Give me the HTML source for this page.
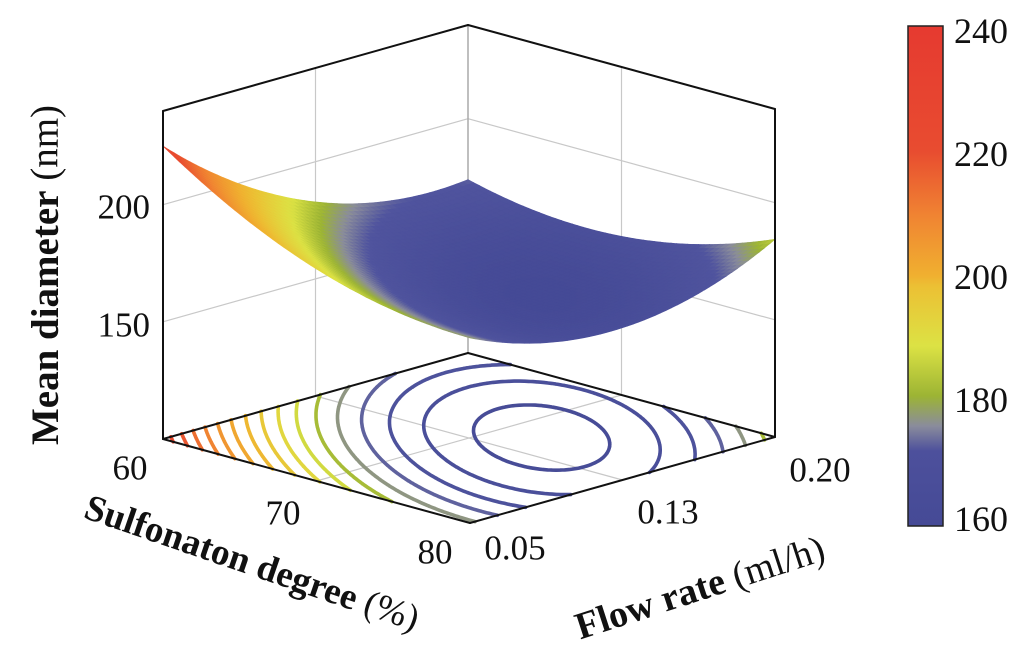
<!DOCTYPE html>
<html><head><meta charset="utf-8"><style>
html,body{margin:0;padding:0;background:#fff;}
svg{display:block;}
text{font-family:"Liberation Serif",serif;fill:#111;}
</style></head><body>
<svg id="chart" width="1024" height="659" viewBox="0 0 1024 659">
<defs>
<linearGradient id="cbgrad" x1="0" y1="1" x2="0" y2="0">
<stop offset="0" stop-color="#454a96"/><stop offset="0.15" stop-color="#4d509c"/>
<stop offset="0.2" stop-color="#8a8c9c"/><stop offset="0.26" stop-color="#9cb434"/>
<stop offset="0.36" stop-color="#dce244"/><stop offset="0.48" stop-color="#ecc034"/>
<stop offset="0.5" stop-color="#f0b030"/><stop offset="0.62" stop-color="#f08432"/>
<stop offset="0.75" stop-color="#e84c30"/><stop offset="1" stop-color="#e63a30"/>
</linearGradient>
</defs>
<g id="walls"></g>
<g id="contours"></g>
<g id="surface"></g>
<g id="edges"></g>

<text x="150" y="207" font-size="35" text-anchor="end" dominant-baseline="central">200</text>
<text x="150" y="325" font-size="35" text-anchor="end" dominant-baseline="central">150</text>
<text transform="translate(45,275) rotate(-90)" font-size="39" text-anchor="middle" dominant-baseline="central"><tspan font-weight="bold">Mean diameter</tspan> (nm)</text>

<text x="130" y="468" font-size="35" text-anchor="middle" dominant-baseline="central">60</text>
<text x="283" y="513" font-size="35" text-anchor="middle" dominant-baseline="central">70</text>
<text x="435" y="552" font-size="35" text-anchor="middle" dominant-baseline="central">80</text>
<text transform="translate(252,563) rotate(19)" font-size="37" text-anchor="middle" dominant-baseline="central"><tspan font-weight="bold">Sulfonaton degree</tspan> (%)</text>

<text x="515" y="548" font-size="35" text-anchor="middle" dominant-baseline="central">0.05</text>
<text x="668" y="512" font-size="35" text-anchor="middle" dominant-baseline="central">0.13</text>
<text x="820" y="470" font-size="35" text-anchor="middle" dominant-baseline="central">0.20</text>
<text transform="translate(700,588) rotate(-18)" font-size="38" text-anchor="middle" dominant-baseline="central"><tspan font-weight="bold">Flow rate</tspan> (ml/h)</text>

<g>
<rect x="908" y="26" width="35" height="500" fill="url(#cbgrad)" stroke="#222" stroke-width="1.5"/>
<text x="954" y="31" font-size="36" dominant-baseline="central">240</text>
<text x="954" y="154" font-size="36" dominant-baseline="central">220</text>
<text x="954" y="277" font-size="36" dominant-baseline="central">200</text>
<text x="954" y="400" font-size="36" dominant-baseline="central">180</text>
<text x="954" y="519" font-size="36" dominant-baseline="central">160</text>
</g>
</svg>
<script>
const sulfonation = [60, 65, 70, 75, 80];
const flowRate = [0.05, 0.0875, 0.125, 0.1625, 0.20];
// diameter[i][j] : sulfonation[i], flowRate[j]
const diameterRow60 = [225.0, 199.7, 182.8, 174.2, 174.0];
const diameterRow65 = [204.9, 183.1, 169.7, 164.7, 168.0];
const diameterRow70 = [190.5, 172.3, 162.4, 160.9, 167.7];
const diameterRow75 = [181.9, 167.2, 160.9, 162.9, 173.2];
const diameterRow80 = [179.0, 167.8, 165.0, 170.5, 184.4];
const diameter = [diameterRow60, diameterRow65, diameterRow70, diameterRow75, diameterRow80];
const contourLevels = [162, 166, 170, 174, 178, 182, 186, 190, 194, 198, 202, 206, 210, 214, 218, 222];

const NS = "http://www.w3.org/2000/svg";
const uOf = s => (s - 60) / 20;
const vOf = f => (f - 0.05) / 0.15;
const Z0 = 100, ZK = 2.343;
function proj(u, v, z) {
  return [163 + 307 * u + 305 * v, 439 + 84 * u - 86 * v - (z - Z0) * ZK];
}
const nodesU = sulfonation.map(uOf), nodesV = flowRate.map(vOf);
function lag(nodes, vals, t) {
  let s = 0;
  for (let i = 0; i < nodes.length; i++) {
    let L = 1;
    for (let j = 0; j < nodes.length; j++) if (j !== i) L *= (t - nodes[j]) / (nodes[i] - nodes[j]);
    s += L * vals[i];
  }
  return s;
}
function zAt(u, v) { return lag(nodesU, diameter.map(r => lag(nodesV, r, v)), u); }
const stops = [[160,[69,74,150]],[173,[80,84,158]],[177,[138,140,156]],[181,[156,180,52]],[187,[220,226,68]],[196,[236,192,52]],[200,[240,176,48]],[210,[240,132,50]],[220,[232,76,48]],[240,[230,58,48]]];
function cmap(z) {
  if (z <= stops[0][0]) return "rgb(" + stops[0][1] + ")";
  for (let i = 1; i < stops.length; i++) {
    if (z <= stops[i][0]) {
      const t = (z - stops[i-1][0]) / (stops[i][0] - stops[i-1][0]);
      const c = stops[i-1][1].map((a, k) => Math.round(a + (stops[i][1][k] - a) * t));
      return "rgb(" + c + ")";
    }
  }
  return "rgb(" + stops[stops.length-1][1] + ")";
}
function line(g, a, b, color, w, name) {
  const l = document.createElementNS(NS, "line");
  l.setAttribute("x1", a[0]); l.setAttribute("y1", a[1]);
  l.setAttribute("x2", b[0]); l.setAttribute("y2", b[1]);
  l.setAttribute("stroke", color); l.setAttribute("stroke-width", w);
  l.setAttribute("stroke-linecap", "round");
  
  
  g.appendChild(l);
}
const walls = document.getElementById("walls");
const gc = "#c8c8c8";
[150, 200].forEach(z => {
  line(walls, proj(0,0,z), proj(0,1,z), gc, 1.2, "gridline-z-left-wall");
  line(walls, proj(0,1,z), proj(1,1,z), gc, 1.2, "gridline-z-right-wall");
});
line(walls, proj(0,0.5,Z0), proj(0,0.5,240), gc, 1.2, "gridline-flow-wall");
line(walls, proj(0.5,1,Z0), proj(0.5,1,240), gc, 1.2, "gridline-sulfonation-wall");
line(walls, proj(0,0.5,Z0), proj(1,0.5,Z0), gc, 1.2, "gridline-flow-floor");
line(walls, proj(0.5,0,Z0), proj(0.5,1,Z0), gc, 1.2, "gridline-sulfonation-floor");
line(walls, proj(0,1,Z0), proj(0,1,240), "#aaa", 1.5, "back-edge");

const cg = document.getElementById("contours");
const M = 120;
const grid = [];
for (let i = 0; i <= M; i++) { grid.push([]); for (let j = 0; j <= M; j++) grid[i].push(zAt(i / M, j / M)); }
contourLevels.forEach(lv => {
  let d = "";
  for (let i = 0; i < M; i++) for (let j = 0; j < M; j++) {
    const c = [[i,j],[i+1,j],[i+1,j+1],[i,j+1]];
    const pts = [];
    for (let k = 0; k < 4; k++) {
      const a = c[k], b = c[(k+1)%4];
      const za = grid[a[0]][a[1]], zb = grid[b[0]][b[1]];
      if ((za - lv) * (zb - lv) < 0) {
        const t = (lv - za) / (zb - za);
        pts.push(proj((a[0] + (b[0]-a[0])*t)/M, (a[1] + (b[1]-a[1])*t)/M, Z0));
      }
    }
    if (pts.length >= 2) d += "M" + pts[0][0].toFixed(1) + " " + pts[0][1].toFixed(1) + "L" + pts[1][0].toFixed(1) + " " + pts[1][1].toFixed(1);
    if (pts.length === 4) d += "M" + pts[2][0].toFixed(1) + " " + pts[2][1].toFixed(1) + "L" + pts[3][0].toFixed(1) + " " + pts[3][1].toFixed(1);
  }
  const p = document.createElementNS(NS, "path");
  p.setAttribute("d", d);
  p.setAttribute("stroke", cmap(lv));
  p.setAttribute("stroke-width", 3.6);
  p.setAttribute("fill", "none");
  p.setAttribute("stroke-linecap", "round");
  
  
  cg.appendChild(p);
});

const sg = document.getElementById("surface");
const N = 56, quads = [];
for (let i = 0; i < N; i++) for (let j = 0; j < N; j++) {
  const us = [i/N, (i+1)/N], vs = [j/N, (j+1)/N];
  const corners = [[us[0],vs[0]],[us[1],vs[0]],[us[1],vs[1]],[us[0],vs[1]]];
  let zs = 0;
  const pts = corners.map(c => { const z = zAt(c[0], c[1]); zs += z; return proj(c[0], c[1], z); });
  quads.push({ pts, z: zs / 4, depth: (1 - (i+0.5)/N) + (j+0.5)/N });
}
quads.sort((a, b) => b.depth - a.depth);
quads.forEach(q => {
  const p = document.createElementNS(NS, "polygon");
  p.setAttribute("points", q.pts.map(t => t[0].toFixed(1) + "," + t[1].toFixed(1)).join(" "));
  const col = cmap(q.z);
  p.setAttribute("fill", col);
  p.setAttribute("stroke", col);
  p.setAttribute("stroke-width", 0.7);
  
  
  sg.appendChild(p);
});

const eg = document.getElementById("edges");
const k = "#111", ZT = 240;
line(eg, proj(0,0,Z0), proj(1,0,Z0), k, 2, "floor-front-left-edge");
line(eg, proj(1,0,Z0), proj(1,1,Z0), k, 2, "floor-front-right-edge");
line(eg, proj(0,0,Z0), proj(0,1,Z0), k, 2, "floor-back-left-edge");
line(eg, proj(0,1,Z0), proj(1,1,Z0), k, 2, "floor-back-right-edge");
line(eg, proj(0,0,Z0), proj(0,0,ZT), k, 2, "left-vertical-edge");
line(eg, proj(1,1,Z0), proj(1,1,ZT), k, 2, "right-vertical-edge");
line(eg, proj(0,0,ZT), proj(0,1,ZT), k, 2, "top-left-edge");
line(eg, proj(0,1,ZT), proj(1,1,ZT), k, 2, "top-right-edge");
</script>
</body></html>
